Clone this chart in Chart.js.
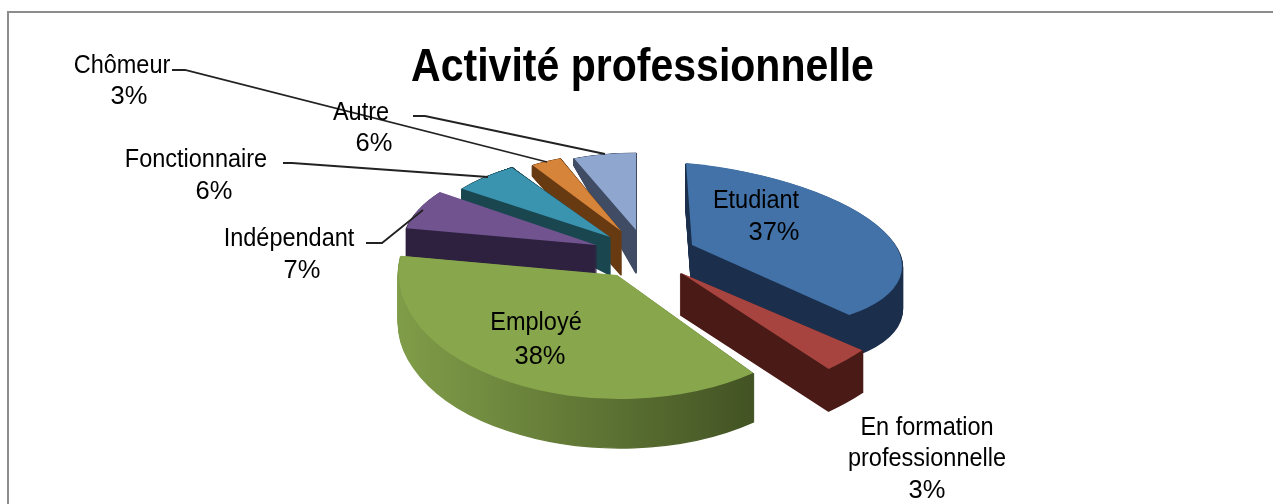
<!DOCTYPE html>
<html><head><meta charset="utf-8">
<style>html,body{margin:0;padding:0;background:#fff}#w{width:1273px;height:504px}canvas{display:block}</style>
<script src="https://cdn.jsdelivr.net/npm/chart.js@4"></script></head>
<body><div id="w"><canvas id="c" width="1273" height="504"></canvas></div>
<script>
const categories=['Etudiant','En formation professionnelle','Employé','Indépendant','Fonctionnaire','Chômeur','Autre'];
const values=[37,3,38,7,6,3,6];
const topColors=['#4272a8','#a8443f','#88a64c','#71548f','#3a94af','#d6843a','#8fa6cf'];
const wallColors=[['#1b2f4d','#1b2f4d'],['#4a1a16','#4a1a16'],['#7f9c48','#33401a'],['#2e2140','#2e2140'],['#1a4650','#1a4650'],['#683a12','#683a12'],['#3f4c64','#3f4c64']];
// 3D projection of each exploded slice: apex, affine axes, wall height, wall flare
const apexX=[692,681,617,596,610,621,636];
const apexY=[245,273,275,245,237,231,230];
const axisA=[210,243,218,193,183,165,168];
const axisB=[19,-17,-4,0,0,0,0];
const axisC=[6,6,10,0,0,0,0];
const axisD=[82,131,124,90,82,78,77];
const wallDepth=[43,42,49,29,38,44,43];
const wallFlare=[0,0,0,0,.55,.5,.5];
const drawOrder=[6,5,4,3,0,1,2];
// data-label text layout
const labelLines=[['Etudiant','37%'],['En formation','professionnelle','3%'],['Employé','38%'],['Indépendant','7%'],['Fonctionnaire','6%'],['Chômeur','3%'],['Autre','6%']];
const labelX=[[756,774],[927,927,927],[536,540],[289,302],[196,214],[122,129],[361,374]];
const labelY=[[201,233],[428,459,491],[323,357],[239,271],[160,192],[66,97],[113,144]];
const leaders=[[[366,243],[382,243],[423,210]],[[283,163],[292,163],[488,177]],[[172,70],[185,70],[547,162]],[[413,116],[425,116],[605,154]]];

const pie3d={id:'pie3d',
 afterLayout(chart){
  const t=chart.titleBlock;
  if(t&&!t._origDraw){
   t._origDraw=t.draw;
   t.draw=function(){const c=chart.ctx,cx=chart.width/2+6;c.save();c.translate(cx,0);c.scale(.892,1);c.translate(-cx,0);
    c.translate(6,0);t._origDraw();c.restore();};
  }
 },
 beforeDatasetDraw(chart,args){
  const ctx=chart.ctx,arcs=args.meta.data;
  for(const i of drawOrder){
   const arc=arcs[i],R=arc.outerRadius,base=arc.options;
   const g=ctx.createLinearGradient(arc.x-R,0,arc.x+R,0);
   g.addColorStop(0,wallColors[i][0]);g.addColorStop(1,wallColors[i][1]);
   const paint=(t,fill,bw)=>{
    ctx.save();
    const d=axisD[i]*(1+wallFlare[i]*t);
    ctx.translate(apexX[i],apexY[i]+wallDepth[i]*t);
    ctx.transform(axisA[i]/R,axisB[i]/R,axisC[i]/R,d/R,0,0);
    ctx.translate(-arc.x,-arc.y);
    arc.options=Object.assign({},base,{backgroundColor:fill,borderWidth:bw,borderColor:fill,borderJoinStyle:'round'});
    arc.draw(ctx);
    arc.options=base;
    ctx.restore();
   };
   for(let y=wallDepth[i];y>0;y--)paint(y/wallDepth[i],g,2);
   paint(0,topColors[i],0);
  }
  return false;
 },
 afterDatasetsDraw(chart){
  const ctx=chart.ctx;
  ctx.save();
  ctx.strokeStyle='#222';ctx.lineWidth=1.8;
  for(const l of leaders){ctx.beginPath();l.forEach((p,k)=>k?ctx.lineTo(p[0],p[1]):ctx.moveTo(p[0],p[1]));ctx.stroke();}
  ctx.fillStyle='#000';ctx.font='25px "Liberation Sans"';ctx.textAlign='center';ctx.textBaseline='middle';
  labelLines.forEach((ls,i)=>ls.forEach((s,k)=>{
   const pct=s.endsWith('%');
   ctx.save();ctx.translate(labelX[i][k],labelY[i][k]);ctx.scale(pct?1.02:.94,1);ctx.fillText(s,0,0);ctx.restore();
  }));
  ctx.restore();
 }
};
const frame={id:'frame',beforeDraw(chart){
 const ctx=chart.ctx;ctx.save();ctx.strokeStyle='#8c8c8c';ctx.lineWidth=2;
 ctx.beginPath();ctx.moveTo(8,504);ctx.lineTo(8,12);ctx.lineTo(1273,12);ctx.stroke();ctx.restore();
}};
new Chart(document.getElementById('c'),{
 type:'pie',
 data:{labels:categories,datasets:[{data:values,backgroundColor:topColors,borderWidth:0}]},
 options:{responsive:false,animation:false,
  plugins:{legend:{display:false},tooltip:{enabled:false},
   title:{display:true,text:'Activité professionnelle',color:'#000',font:{family:'"Liberation Sans"',size:46,weight:'bold'},padding:{top:41,bottom:0}}}},
 plugins:[frame,pie3d]
});
</script></body></html>
